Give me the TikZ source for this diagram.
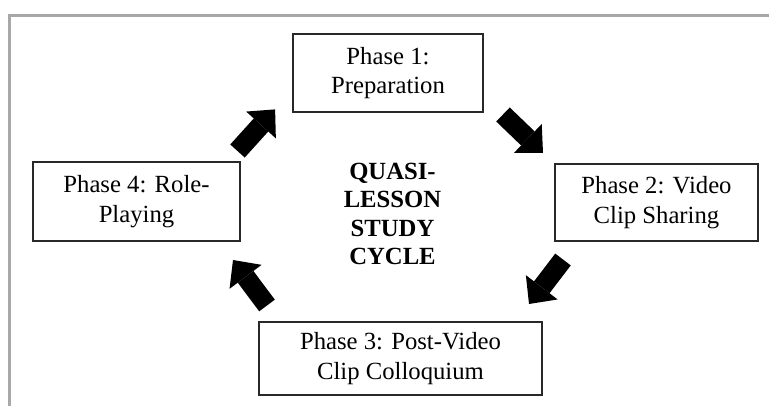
\documentclass[tikz,border=0pt]{standalone}
\usepackage{fontspec}
\setmainfont{Liberation Serif}
\usetikzlibrary{arrows.meta}
\definecolor{framegray}{RGB}{168,168,168}
\definecolor{boxline}{RGB}{40,40,40}
\tikzset{
  phasebox/.style={draw=boxline, line width=1.4pt, inner sep=0pt, align=center,
    font=\fontsize{24.7}{29.5}\selectfont},
  titletext/.style={inner sep=0pt, align=center,
    font=\fontsize{24.7}{28.4}\selectfont\bfseries},
  blockarrow/.style={line width=19.5pt, draw=black,
    -{Triangle[width=40pt,length=21pt,line width=0pt]}},
}
\begin{document}
\begin{tikzpicture}[x=1pt,y=-1pt]
\useasboundingbox (0,0) rectangle (769,406);
% frame
\draw[framegray, line width=3pt] (769,16) -- (9.5,16) -- (9.5,406);
% boxes
\node[phasebox, minimum width=190pt, minimum height=78pt] (p1) at (388,73) {Phase 1:\\Preparation};
\node[phasebox, minimum width=203pt, minimum height=77pt] (p2) at (656.5,202.5) {Phase 2: Video\\Clip Sharing};
\node[phasebox, minimum width=283pt, minimum height=73pt] (p3) at (400.5,358.5) {Phase 3: Post-Video\\Clip Colloquium};
\node[phasebox, minimum width=207pt, minimum height=79pt] (p4) at (136.5,201.5) {Phase 4: Role-\\Playing};
% title
\node[titletext] (title) at (392.5,214) {QUASI-\\LESSON\\STUDY\\CYCLE};
% arrow end points
\coordinate (a1s) at (237.5,151);
\coordinate (a1e) at (275.1,109.4);
\coordinate (a2s) at (503,114.5);
\coordinate (a2e) at (543,153);
\coordinate (a3s) at (563,259.5);
\coordinate (a3e) at (529,304);
\coordinate (a4s) at (267,305.5);
\coordinate (a4e) at (233,260);
\draw[blockarrow] (a1s) -- (a1e);
\draw[blockarrow] (a2s) -- (a2e);
\draw[blockarrow] (a3s) -- (a3e);
\draw[blockarrow] (a4s) -- (a4e);
\end{tikzpicture}
\end{document}
